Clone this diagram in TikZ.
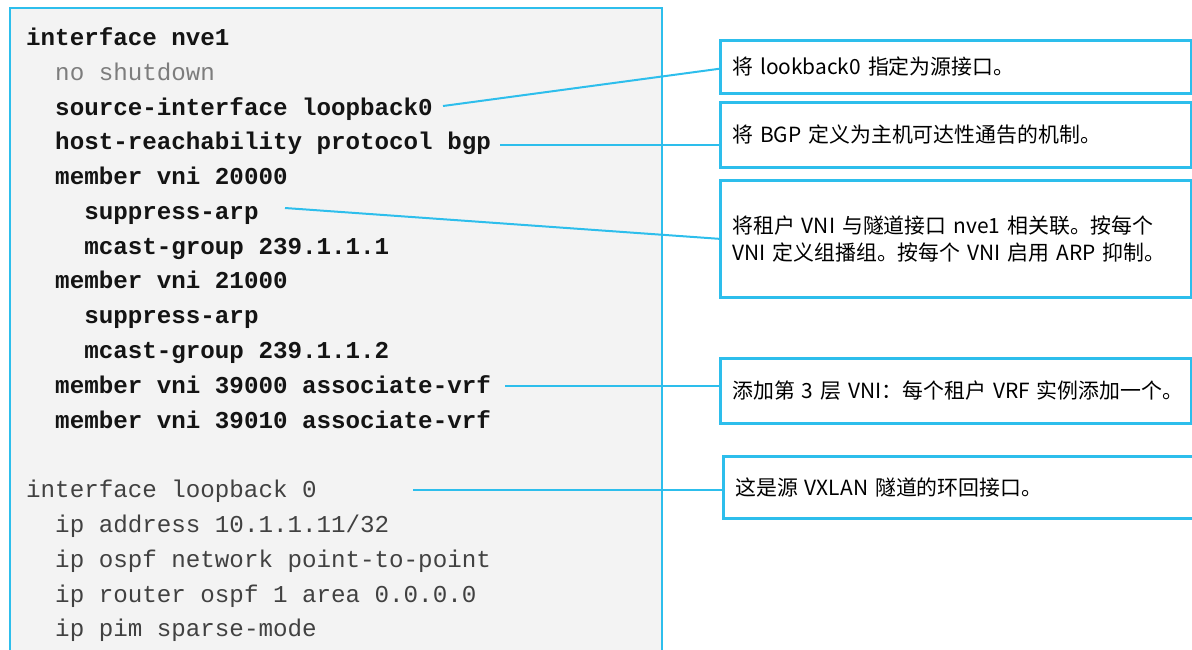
\documentclass[tikz,border=0pt]{standalone}
\usepackage{fontspec}
\setmonofont{Liberation Mono}
\newfontfamily\cjk{Noto Sans CJK SC}
\definecolor{edgeblue}{RGB}{45,190,236}
\definecolor{panelgray}{RGB}{243,243,243}
\definecolor{cmdblack}{RGB}{20,20,20}
\definecolor{cmdgray}{RGB}{125,125,125}
\definecolor{cmddark}{RGB}{65,65,65}
\tikzset{
  code/.style={anchor=base west, inner sep=0pt, font=\ttfamily\fontsize{24.2}{28}\selectfont},
  cmd/.style={code, text=cmdblack, font=\ttfamily\bfseries\fontsize{24.2}{28}\selectfont},
  dim/.style={code, text=cmdgray},
  plain/.style={code, text=cmddark},
  note/.style={draw=edgeblue, line width=2.6pt, fill=white, anchor=north west,
    align=left, text width=447pt, inner xsep=12pt, inner ysep=0pt,
    font=\cjk\fontsize{20.9}{27}\selectfont, text=black},
  link/.style={draw=edgeblue, line width=2pt},
}
\begin{document}
\begin{tikzpicture}[x=1pt, y=-1pt]
\useasboundingbox (0,0) rectangle (1192,649);
% configuration panel
\path[fill=panelgray, draw=edgeblue, line width=2.8pt] (10,8) rectangle (662,680);

% interface nve1 block
\node[cmd] (l1)  at (26,45)    {interface nve1};
\node[dim] (l2)  at (26,80)    {\ \ no shutdown};
\node[cmd] (l3)  at (26,115)   {\ \ source-interface loopback0};
\node[cmd] (l4)  at (26,149.5) {\ \ host-reachability protocol bgp};
\node[cmd] (l5)  at (26,184.3) {\ \ member vni 20000};
\node[cmd] (l6)  at (26,219)   {\ \ \ \ suppress-arp};
\node[cmd] (l7)  at (26,254)   {\ \ \ \ mcast-group 239.1.1.1};
\node[cmd] (l8)  at (26,288.5) {\ \ member vni 21000};
\node[cmd] (l9)  at (26,323.3) {\ \ \ \ suppress-arp};
\node[cmd] (l10) at (26,358)   {\ \ \ \ mcast-group 239.1.1.2};
\node[cmd] (l11) at (26,393)   {\ \ member vni 39000 associate-vrf};
\node[cmd] (l12) at (26,428)   {\ \ member vni 39010 associate-vrf};

% interface loopback 0 block
\node[plain] (m1) at (26,497) {interface loopback 0};
\node[plain] (m2) at (26,532) {\ \ ip address 10.1.1.11/32};
\node[plain] (m3) at (26,567) {\ \ ip ospf network point-to-point};
\node[plain] (m4) at (26,602) {\ \ ip router ospf 1 area 0.0.0.0};
\node[plain] (m5) at (26,636) {\ \ ip pim sparse-mode};

% explanation boxes
\node[note, minimum height=53pt] (b1) at (719,39)  {将 lookback0 指定为源接口。};
\node[note, minimum height=65pt] (b2) at (719,101) {将 BGP 定义为主机可达性通告的机制。};
\node[note, minimum height=117pt] (b3) at (719,179) {将租户 VNI 与隧道接口 nve1 相关联。按每个\\VNI 定义组播组。按每个 VNI 启用 ARP 抑制。};
\node[note, minimum height=65pt] (b4) at (719,357) {\mbox{添加第 3 层 VNI：每个租户 VRF 实例添加一个。}};
\node[note, minimum height=62pt] (b5) at (722,455) {这是源 VXLAN 隧道的环回接口。};

% leader lines
\coordinate (c1) at (443,106);
\coordinate (c2) at (500,145);
\coordinate (c3) at (285,208);
\coordinate (c4) at (505,386);
\coordinate (c5) at (413,490);
\draw[link] (c1) -- ([yshift=-2pt]b1.west);
\draw[link] (c2) -- (b2.west |- c2);
\draw[link] (c3) -- (b3.west);
\draw[link] (c4) -- (b4.west |- c4);
\draw[link] (c5) -- (b5.west |- c5);
\end{tikzpicture}
\end{document}
